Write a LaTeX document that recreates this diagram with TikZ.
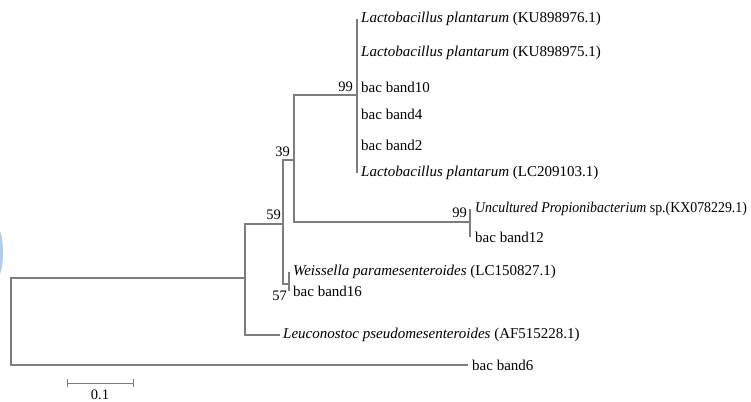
\documentclass[tikz,border=0pt]{standalone}
\usepackage{fontspec}
\setmainfont{Liberation Serif}
\begin{document}
\begin{tikzpicture}[x=1pt,y=-1pt,
  br/.style={draw={rgb,255:red,125;green,125;blue,125},line width=1.3pt},
  leaf/.style={anchor=west,inner sep=0pt,font=\fontsize{15}{17}\selectfont,text=black},
  boot/.style={inner sep=0pt,font=\fontsize{14.5}{16}\selectfont,text=black}]
\useasboundingbox (0,0) rectangle (751,401);
\fill[fill={rgb,255:red,175;green,205;blue,238}] (0,231) .. controls (4,240) and (4,265) .. (0,274) -- cycle;
% internal nodes
\coordinate (R) at (11,322);
\coordinate (A) at (245,278);
\coordinate (B) at (283,224);
\coordinate (C) at (294,160);
\coordinate (D) at (357,95);
\coordinate (E) at (470,222);
\coordinate (F) at (289,284);
% tips
\coordinate (t1) at (357,19);
\coordinate (t2) at (357,53);
\coordinate (t3) at (357,87);
\coordinate (t4) at (357,114);
\coordinate (t5) at (357,145);
\coordinate (t6) at (357,173);
\coordinate (t7) at (470,209);
\coordinate (t8) at (470,237);
\coordinate (t9) at (289,272);
\coordinate (t10) at (289,291);
\coordinate (t11) at (280,335);
\coordinate (t12) at (468,365);
% labels
\node[leaf] (l1) at ([xshift=4pt]t1) {\textit{Lactobacillus plantarum} (KU898976.1)};
\node[leaf] (l2) at ([xshift=4pt]t2) {\textit{Lactobacillus plantarum} (KU898975.1)};
\node[leaf] (l3) at ([xshift=4pt]t3) {bac band10};
\node[leaf] (l4) at ([xshift=4pt]t4) {bac band4};
\node[leaf] (l5) at ([xshift=4pt]t5) {bac band2};
\node[leaf] (l6) at ([xshift=4pt]t6) {\textit{Lactobacillus plantarum} (LC209103.1)};
\node[leaf] (l7) at ([xshift=5pt]t7) {\scalebox{0.925}[1]{\textit{Uncultured Propionibacterium} sp.(KX078229.1)}};
\node[leaf] (l8) at ([xshift=5pt]t8) {bac band12};
\node[leaf] (l9) at ([xshift=4pt]t9) {\textit{Weissella paramesenteroides} (LC150827.1)};
\node[leaf] (l10) at ([xshift=4pt]t10) {bac band16};
\node[leaf] (l11) at ([xshift=3pt]t11) {\textit{Leuconostoc pseudomesenteroides} (AF515228.1)};
\node[leaf] (l12) at ([xshift=4pt]t12) {bac band6};
% branches
\draw[br] (t1) -- (t6);
\draw[br] (D) -- (C |- D) -- (C |- E) -- (E);
\draw[br] (t7) -- (t8);
\draw[br] (C) -- (B |- C) -- (B |- F) -- (F);
\draw[br] (t9) -- (t10);
\draw[br] (B) -- (A |- B) -- (A |- t11) -- (t11);
\draw[br] (A) -- (R |- A) -- (R |- t12) -- (t12);
% bootstrap values
\node[boot,anchor=south east] (b1) at ([xshift=-4pt,yshift=3pt]D) {99};
\node[boot,anchor=south east] (b2) at ([xshift=-4pt,yshift=3pt]C) {39};
\node[boot,anchor=south east] (b3) at ([xshift=-2pt,yshift=4pt]B) {59};
\node[boot,anchor=south east] (b4) at ([xshift=-3pt,yshift=4pt]E) {99};
\node[boot,anchor=north east] (b5) at ([xshift=-2pt,yshift=-7pt]F) {57};
% scale bar
\coordinate (s1) at (67,383);
\coordinate (s2) at (133,383);
\draw[br,line width=1pt] (s1) -- (s2);
\draw[br,line width=1pt] ([yshift=-4pt]s1) -- ([yshift=4pt]s1);
\draw[br,line width=1pt] ([yshift=-4pt]s2) -- ([yshift=4pt]s2);
\node[boot,anchor=base] (sl) at (100,399) {0.1};
\end{tikzpicture}
\end{document}
